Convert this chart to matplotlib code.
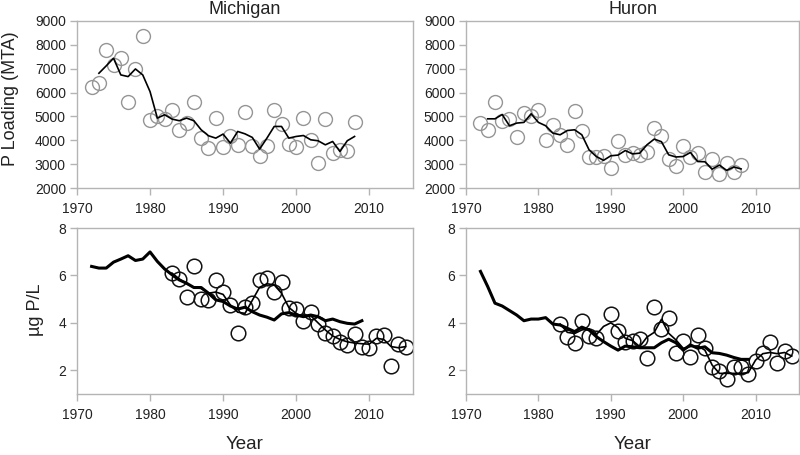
import matplotlib
matplotlib.use("Agg")
import matplotlib.pyplot as plt

plt.rcParams['font.family'] = ['Liberation Sans', 'DejaVu Sans']

# ---------------- data ----------------
mi_load_years = list(range(1972, 2009))
mi_load_obs = [6250, 6400, 7800, 7160, 7440, 5620, 7000, 8360, 4830, 5000,
               4910, 5290, 4450, 4720, 5610, 4090, 3670, 4950, 3710, 4160,
               3810, 5200, 3770, 3350, 3740, 5280, 4680, 3850, 3710, 4930,
               4020, 3060, 4890, 3460, 3600, 3560, 4760]
mi_load_avg_years = list(range(1973, 2009))
mi_load_avg = [6810, 7120, 7440, 6740, 6670, 6990, 6740, 6040, 4930, 5070,
               4890, 4820, 4930, 4820, 4440, 4190, 4090, 4260, 3880, 4370,
               4270, 4120, 3630, 4090, 4580, 4580, 4090, 4160, 4200, 4020,
               3980, 3810, 3950, 3530, 3980, 4160]

hu_load_years = list(range(1972, 2009))
hu_load_obs = [4720, 4440, 5600, 4790, 4900, 4150, 5160, 5000, 5250, 4020,
               4640, 4230, 3800, 5230, 4370, 3320, 3320, 3330, 2820, 3980,
               3390, 3460, 3370, 3490, 4510, 4190, 3210, 2930, 3770, 3300,
               3460, 2650, 3230, 2570, 3050, 2670, 2960]
hu_load_avg_years = list(range(1973, 2009))
hu_load_avg = [4900, 4900, 5080, 4610, 4720, 4750, 5110, 4750, 4610, 4300,
               4230, 4410, 4440, 4230, 3600, 3320, 3160, 3350, 3380, 3570,
               3430, 3460, 3810, 4050, 3940, 3390, 3300, 3320, 3490, 3110,
               3100, 2790, 2960, 2740, 2880, 2800]

mi_model_years = list(range(1972, 2010))
mi_model = [6.38, 6.31, 6.31, 6.56, 6.69, 6.83, 6.63, 6.69, 6.99, 6.59,
            6.27, 6.03, 5.81, 5.67, 5.49, 5.49, 5.25, 4.97, 4.90, 4.71,
            4.58, 4.66, 4.47, 4.33, 4.24, 4.12, 4.38, 4.43, 4.33, 4.26,
            4.33, 4.26, 4.09, 4.16, 4.05, 3.98, 3.95, 4.09]
mi_tp_years = list(range(1983, 2016))
mi_tp_obs = [6.10, 5.84, 5.11, 6.41, 5.00, 4.97, 5.81, 5.32, 4.76, 3.59,
             4.66, 4.83, 5.81, 5.89, 5.32, 5.72, 4.62, 4.58, 4.08, 4.45,
             3.95, 3.59, 3.45, 3.21, 3.05, 3.52, 3.00, 2.93, 3.45, 3.50,
             2.20, 3.10, 3.00]
mi_tp_avg = [6.10, 5.85, 5.65, 5.50, 5.45, 5.25, 5.30, 5.20, 4.75, 4.45,
             4.40, 4.95, 5.50, 5.65, 5.60, 5.25, 4.65, 4.40, 4.25, 4.30,
             4.00, 3.70, 3.45, 3.30, 3.20, 3.15, 3.12, 3.10, 3.35, 3.30,
             3.00, 2.95, 3.00]

hu_model_years = list(range(1972, 2010))
hu_model = [6.17, 5.53, 4.83, 4.71, 4.52, 4.33, 4.09, 4.16, 4.16, 4.22,
            3.95, 3.91, 3.77, 3.63, 3.82, 3.70, 3.42, 3.21, 3.02, 2.85,
            3.02, 2.99, 2.95, 2.95, 2.95, 3.16, 3.31, 3.16, 2.85, 3.07,
            2.93, 2.99, 2.74, 2.71, 2.64, 2.54, 2.46, 2.46]
hu_tp_years = [1983, 1984, 1985, 1986, 1987, 1988, 1990, 1991, 1992, 1993,
               1994, 1995, 1996, 1997, 1998, 1999, 2000, 2001, 2002, 2003,
               2004, 2005, 2006, 2007, 2008, 2009, 2010, 2011, 2012, 2013,
               2014, 2015]
hu_tp_obs = [3.95, 3.39, 3.14, 4.08, 3.45, 3.38, 4.36, 3.67, 3.18, 3.25,
             3.31, 2.53, 4.66, 3.72, 4.22, 2.71, 3.25, 2.54, 3.49, 2.93,
             2.12, 1.98, 1.63, 2.12, 2.12, 1.84, 2.40, 2.75, 3.20, 2.30,
             2.80, 2.60]
hu_tp_avg_years = list(range(1983, 2016))
hu_tp_avg = [3.95, 3.60, 3.55, 3.70, 3.75, 3.50, 3.85, 4.00, 3.80, 3.35,
             3.25, 3.00, 3.40, 3.60, 4.15, 3.56, 3.28, 2.93, 3.00, 3.03,
             2.85, 2.22, 1.87, 1.87, 1.87, 1.87, 1.90, 2.43, 2.70, 2.75,
             2.70, 2.75, 2.60]

x_ticks = [1970, 1980, 1990, 2000, 2010]
load_ticks = [2000, 3000, 4000, 5000, 6000, 7000, 8000, 9000]
tp_ticks = [2, 4, 6, 8]

# ---------------- figure ----------------
W, H = 800, 455
fig = plt.figure(figsize=(W / 100, H / 100), dpi=100)

def px_axes(left, top, right, bottom):
    return fig.add_axes([left / W, 1 - bottom / H, (right - left) / W, (bottom - top) / H])

spine_col = '#b4b4b4'
txt_col = '#222222'

def style(ax, yticks, ylim):
    ax.set_xlim(1970, 2016)
    ax.set_ylim(*ylim)
    ax.set_xticks(x_ticks)
    ax.set_yticks(yticks)
    for s in ax.spines.values():
        s.set_color(spine_col)
        s.set_linewidth(1.0)
    ax.tick_params(direction='out', length=5, width=1.0, color=spine_col,
                   labelsize=10, labelcolor=txt_col, pad=3)
    ax.tick_params(axis='x', pad=5)

ax1 = px_axes(77, 21, 413, 188)
ax2 = px_axes(466, 21, 799, 188)
ax3 = px_axes(77, 228, 413, 394)
ax4 = px_axes(466, 228, 799, 394)

circ_top = dict(linestyle='none', marker='o', markersize=10, markerfacecolor='none',
                markeredgecolor='#959595', markeredgewidth=1.0)
circ_bot = dict(linestyle='none', marker='o', markersize=10.5, markerfacecolor='none',
                markeredgecolor='#111111', markeredgewidth=1.1)

for ax, yrs, obs, ayrs, avg, title in [
        (ax1, mi_load_years, mi_load_obs, mi_load_avg_years, mi_load_avg, 'Michigan'),
        (ax2, hu_load_years, hu_load_obs, hu_load_avg_years, hu_load_avg, 'Huron')]:
    ax.plot(yrs, obs, **circ_top)
    ax.plot(ayrs, avg, color='black', lw=1.2)
    style(ax, load_ticks, (2000, 9000))
    ax.set_title(title, fontsize=13, color=txt_col, pad=5)

for ax, myrs, model, oyrs, obs, ayrs, avg in [
        (ax3, mi_model_years, mi_model, mi_tp_years, mi_tp_obs, mi_tp_years, mi_tp_avg),
        (ax4, hu_model_years, hu_model, hu_tp_years, hu_tp_obs, hu_tp_avg_years, hu_tp_avg)]:
    ax.plot(oyrs, obs, **circ_bot)
    ax.plot(ayrs, avg, color='black', lw=1.2)
    ax.plot(myrs, model, color='black', lw=2.2)
    style(ax, tp_ticks, (1, 8))
    ax.set_xlabel('Year', fontsize=13.5, color=txt_col, labelpad=10)

fig.text(11 / W, 1 - 99 / H, 'P Loading (MTA)', rotation=90, fontsize=13,
         color=txt_col, ha='center', va='center')
fig.text(35 / W, 1 - 310 / H, 'µg P/L', rotation=90, fontsize=13,
         color=txt_col, ha='center', va='center')

fig.savefig('out.png', dpi=100)
